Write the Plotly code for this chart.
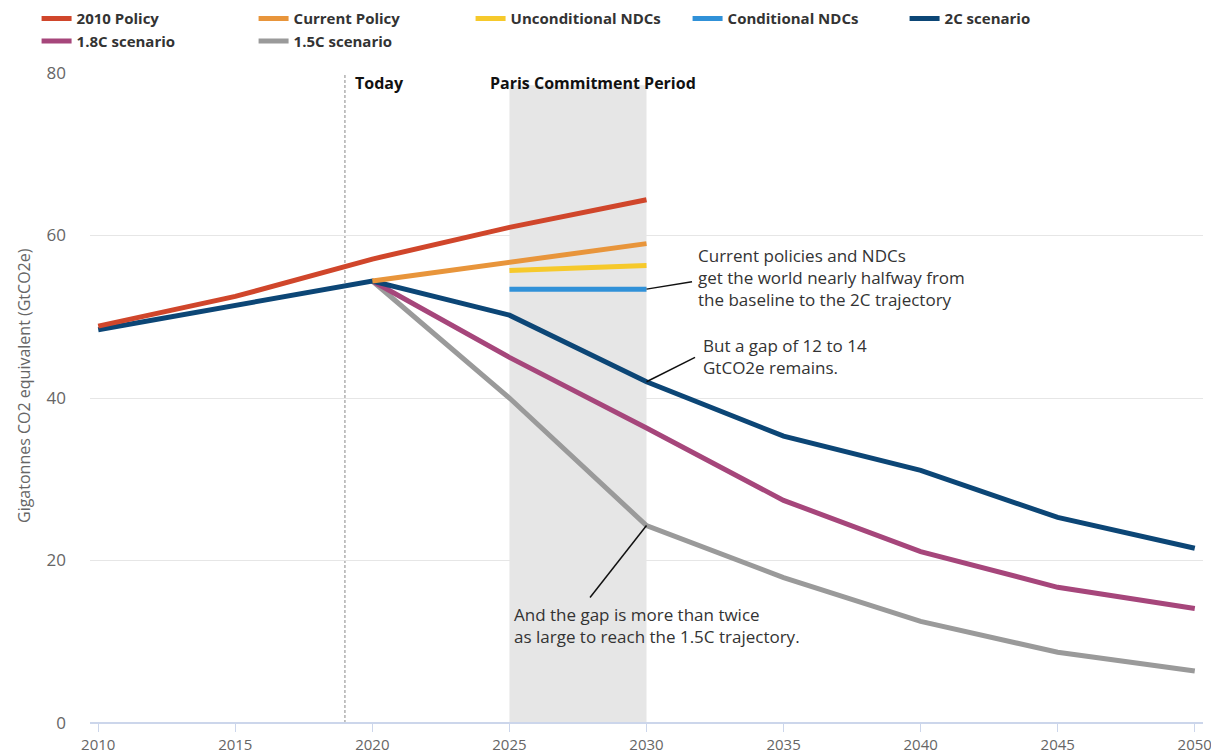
import plotly.graph_objects as go

FONT = "Open Sans"

# emissions pathways, GtCO2e
years_hist = [2010, 2015, 2020, 2025, 2030]
policy_2010 = [48.85, 52.5, 57.1, 61.0, 64.4]

years_cur = [2020, 2030]
current_policy = [54.4, 59.0]

years_ndc = [2025, 2030]
uncond_ndc = [55.7, 56.3]
cond_ndc = [53.4, 53.4]

years_long = [2010, 2015, 2020, 2025, 2030, 2035, 2040, 2045, 2050]
scen_2c = [48.4, 51.4, 54.4, 50.2, 42.0, 35.3, 31.1, 25.3, 21.5]

years_scen = [2020, 2025, 2030, 2035, 2040, 2045, 2050]
scen_18c = [54.4, 45.0, 36.3, 27.4, 21.1, 16.7, 14.1]
scen_15c = [54.4, 40.0, 24.3, 17.9, 12.5, 8.7, 6.4]

x_ticks = [2010, 2015, 2020, 2025, 2030, 2035, 2040, 2045, 2050]
y_ticks = [0, 20, 40, 60, 80]

series = [
    ("2010 Policy", years_hist, policy_2010, "#d0462b"),
    ("Current Policy", years_cur, current_policy, "#e8953b"),
    ("Unconditional NDCs", years_ndc, uncond_ndc, "#f6c92b"),
    ("Conditional NDCs", years_ndc, cond_ndc, "#3091d8"),
    ("2C scenario", years_long, scen_2c, "#0c4676"),
    ("1.8C scenario", years_scen, scen_18c, "#a6467b"),
    ("1.5C scenario", years_scen, scen_15c, "#9a9a9a"),
]

# draw order: scenarios beneath policy lines
draw_order = [6, 5, 4, 3, 2, 1, 0]

fig = go.Figure()
for i in draw_order:
    name, xs, ys, col = series[i]
    fig.add_trace(go.Scatter(
        x=xs, y=ys, name=name, mode="lines",
        line=dict(color=col, width=5), legendrank=i + 1,
    ))

# Paris commitment band and "today" marker
fig.add_shape(type="rect", xref="x", yref="y", x0=2025, x1=2030, y0=0, y1=78.5,
              fillcolor="#e6e6e6", line_width=0, layer="below")
fig.add_shape(type="line", xref="x", yref="y", x0=2019, x1=2019, y0=0, y1=80,
              line=dict(color="#888888", width=1, dash="3px,2px"), layer="below")

fig.add_annotation(x=2019, y=80, xref="x", yref="y", text="<b>Today</b>", showarrow=False,
                   xanchor="left", yanchor="top", xshift=8, yshift=3,
                   font=dict(family=FONT, size=16, color="#111"))
fig.add_annotation(x=2027.85, y=80, xref="x", yref="y", text="<b>Paris Commitment Period</b>",
                   showarrow=False, xanchor="center", yanchor="top", xshift=5, yshift=3,
                   font=dict(family=FONT, size=16, color="#111"))

# callouts
notes = [
    (2030, 53.4, 2031.66, 54.3, 2031.8, 54.85, "middle",
     "Current policies and NDCs<br>get the world nearly halfway from<br>the baseline to the 2C trajectory"),
    (2030, 42.0, 2031.77, 45.0, 2032.0, 45.1, "middle",
     "But a gap of 12 to 14<br>GtCO2e remains."),
    (2030, 24.3, 2027.94, 15.45, 2025.1, 15.0, "top",
     "And the gap is more than twice<br>as large to reach the 1.5C trajectory."),
]
for x0, y0, x1, y1, tx, ty, ya, txt in notes:
    fig.add_shape(type="line", xref="x", yref="y", x0=x0, y0=y0, x1=x1, y1=y1,
                  line=dict(color="#111111", width=1.5))
    fig.add_annotation(x=tx, y=ty, xref="x", yref="y", text=txt, showarrow=False,
                       xanchor="left", yanchor=ya, align="left",
                       font=dict(family=FONT, size=17, color="#333333"))

# y-axis title as a rotated label so it can sit further left
fig.add_annotation(x=-0.0593, y=0.52, xref="paper", yref="paper",
                   text="Gigatonnes CO2 equivalent (GtCO2e)", showarrow=False,
                   textangle=-90, xanchor="center", yanchor="middle",
                   font=dict(family=FONT, size=16, color="#666666"))

fig.update_layout(
    width=1211, height=754,
    margin=dict(l=90, r=8, t=73, b=31, autoexpand=False),
    paper_bgcolor="white", plot_bgcolor="white",
    font=dict(family=FONT, size=13, color="#666666"),
    legend=dict(
        orientation="h", x=-0.048, xanchor="left", y=1.109, yanchor="top",
        entrywidth=172, entrywidthmode="pixels",
        font=dict(family=FONT, size=15, color="#333333", weight="bold"),
        itemwidth=30, tracegroupgap=0, traceorder="normal",
    ),
    showlegend=True,
)

fig.update_xaxes(
    range=[2009.7, 2050.3], tickvals=x_ticks, showgrid=False, zeroline=False,
    showline=False, ticks="outside", ticklen=8, tickcolor="#ccd6eb", tickwidth=1,
    tickfont=dict(family=FONT, size=15, color="#666666"), ticklabeloverflow="allow",
)
fig.update_yaxes(
    range=[0, 80], tickvals=y_ticks, showgrid=True, gridcolor="#e6e6e6", gridwidth=1,
    zeroline=True, zerolinecolor="#ccd6eb", zerolinewidth=2,
    tickfont=dict(family=FONT, size=17, color="#666666"), ticks="", ticklabelstandoff=23,
)

fig.write_html("out.html", config={"displayModeBar": False},
               post_script="document.body.style.margin='0';")
